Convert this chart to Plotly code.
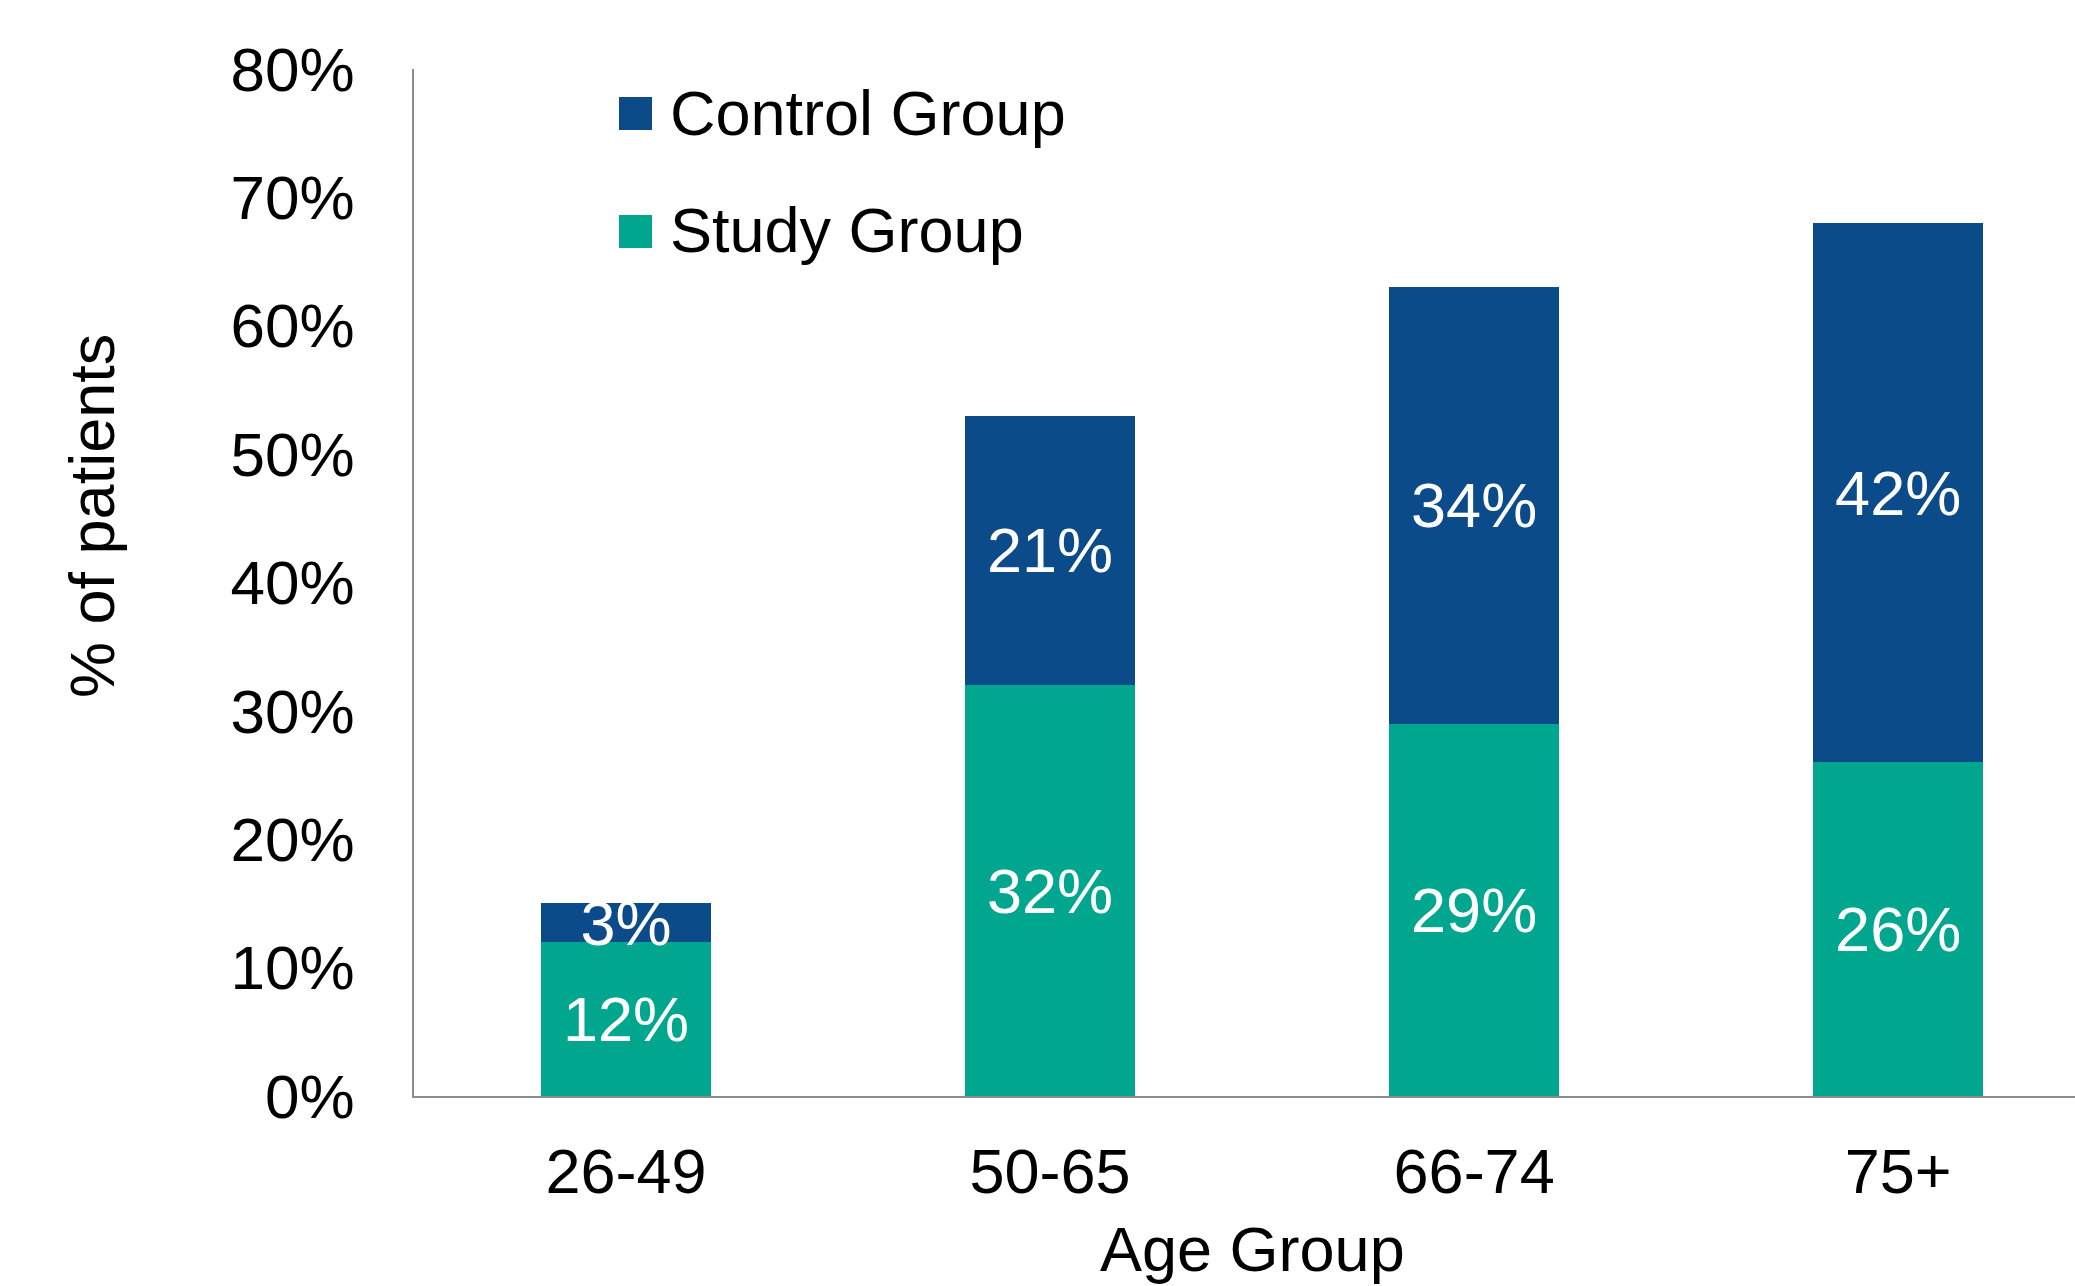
import plotly.graph_objects as go

categories = ["26-49", "50-65", "66-74", "75+"]
study_group = [12, 32, 29, 26]
control_group = [3, 21, 34, 42]
y_ticks = [0, 10, 20, 30, 40, 50, 60, 70, 80]
y_tick_labels = [f"{v}%" for v in y_ticks]

BLUE = "#0C4B8A"
TEAL = "#00A78E"
FONT = "Liberation Sans, Arial, sans-serif"

PAGE_W, PAGE_H = 2075, 1286
L, T, B = 414, 69, 1096    # plot-area edges in page pixels
R = PAGE_W                 # plot area runs to the right edge

W = PAGE_W
H = PAGE_H


def px(xp):
    return (xp - L) / (R - L)


def py(yp):
    return (B - yp) / (B - T)


fig = go.Figure()
fig.add_trace(go.Bar(
    x=categories, y=study_group, name="Study Group", marker_color=TEAL,
    marker_line_width=0, width=0.40,
    text=[f"{v}%" for v in study_group], textposition="inside",
    insidetextanchor="middle", textangle=0, constraintext="none",
    textfont=dict(color="white", size=63, family=FONT), showlegend=False,
))
fig.add_trace(go.Bar(
    x=categories, y=control_group, name="Control Group", marker_color=BLUE,
    marker_line_width=0, width=0.40,
    text=[f"{v}%" for v in control_group], textposition="inside",
    insidetextanchor="middle", textangle=0, constraintext="none",
    textfont=dict(color="white", size=63, family=FONT), showlegend=False,
))

shapes = []
annotations = []
legend_items = [("Control Group", BLUE, 97, 130), ("Study Group", TEAL, 215, 248)]
for name, color, y0, y1 in legend_items:
    shapes.append(dict(type="rect", xref="paper", yref="paper",
                       x0=px(619), x1=px(652), y0=py(y1), y1=py(y0),
                       fillcolor=color, line_width=0))
    annotations.append(dict(text=name, xref="paper", yref="paper",
                            x=px(668), y=py((y0 + y1) / 2 - 1), xanchor="left",
                            yanchor="middle", showarrow=False,
                            font=dict(size=63, color="black", family=FONT)))

annotations.append(dict(text="% of patients", xref="paper", yref="paper",
                        x=px(92), y=py(516), textangle=-90, xanchor="center",
                        yanchor="middle", showarrow=False,
                        font=dict(size=63, color="black", family=FONT)))
annotations.append(dict(text="Age Group", xref="paper", yref="paper",
                        x=px(1252), y=py(1249), xanchor="center",
                        yanchor="middle", showarrow=False,
                        font=dict(size=63, color="black", family=FONT)))

fig.update_layout(
    width=W, height=H,
    margin=dict(l=L, r=0, t=T, b=PAGE_H - B, pad=0),
    barmode="stack",
    plot_bgcolor="white", paper_bgcolor="white",
    font=dict(family=FONT, color="black"),
    shapes=shapes, annotations=annotations,
    showlegend=False,
)
fig.update_xaxes(
    range=[-0.5, 3.417], showgrid=False, zeroline=False,
    showline=True, linecolor="#8C8C8C", linewidth=2,
    ticks="", tickfont=dict(size=63, family=FONT, color="black"),
    ticklabelstandoff=19,
)
fig.update_yaxes(
    range=[0, 80], tickvals=y_ticks, ticktext=y_tick_labels,
    showgrid=False, zeroline=False,
    showline=True, linecolor="#8C8C8C", linewidth=2,
    ticks="", tickfont=dict(size=62, family=FONT, color="black"),
    ticklabelstandoff=45,
)

fig.write_html(
    "out.html",
    config={"displayModeBar": False},
    post_script="document.body.style.margin='0';"
                "document.documentElement.style.overflow='hidden';"
                "document.body.style.overflow='hidden';",
)
